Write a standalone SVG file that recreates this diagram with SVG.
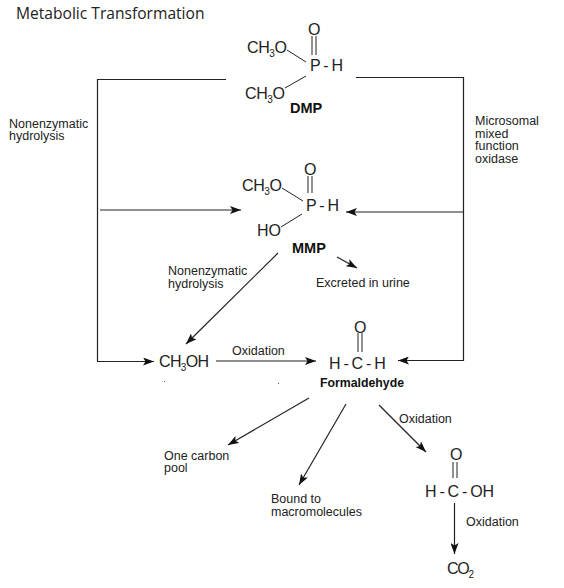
<svg xmlns="http://www.w3.org/2000/svg" width="564" height="588" viewBox="0 0 564 588">
<defs>
<marker id="a" markerUnits="userSpaceOnUse" markerWidth="12" markerHeight="8" refX="11" refY="4" orient="auto"><path d="M0 0L11 4L0 8L2.500 4Z" fill="#111"/></marker>
</defs>
<style>
text{font-family:"Liberation Sans",Arial,sans-serif;fill:#222;font-size:12.500px}
.m{font-size:16px}
.f{font-size:16px;word-spacing:-1.600px}
.s{font-size:10px}
.b{font-weight:bold;font-size:14.500px;fill:#111}
.l{fill:none;stroke:#222;stroke-width:1}
.c{fill:none;stroke:#222;stroke-width:1.200}
</style>
<rect width="564" height="588" fill="#fff"/>
<text id="title" x="16" y="19" style="font-family:'Open Sans','Noto Sans',sans-serif;font-size:15.600px">Metabolic Transformation</text>
<g id="connectors">
<path class="c" d="M226 79.500H97.500V361.500H154" marker-end="url(#a)"/>
<path class="c" d="M356 77.500H463.500V360.500H398" marker-end="url(#a)"/>
<path class="c" d="M100 210H241" marker-end="url(#a)"/>
<path class="c" d="M463 212H346" marker-end="url(#a)"/>
<path class="c" d="M278 253L186 344" marker-end="url(#a)"/>
<path class="c" d="M337 257L357 268" marker-end="url(#a)"/>
<path class="c" d="M216 361H316" marker-end="url(#a)"/>
<path class="c" d="M309 398L228 445" marker-end="url(#a)"/>
<path class="c" d="M346 404L299 485" marker-end="url(#a)"/>
<path class="c" d="M379 405L426 452" marker-end="url(#a)"/>
<path class="c" d="M454.500 503V554" marker-end="url(#a)"/>
</g>
<g id="dmp">
<text class="m" x="247" y="52.500" textLength="40">CH<tspan class="s" dy="4">3</tspan><tspan dy="-4">O</tspan></text>
<text class="m" x="245" y="98.500" textLength="40">CH<tspan class="s" dy="4">3</tspan><tspan dy="-4">O</tspan></text>
<text class="m" x="308" y="34.500">O</text>
<text class="f" x="310" y="70.500">P - H</text>
<text class="b" x="290" y="113">DMP</text>
<path class="l" d="M312 36V55M316 36V55M287 50L306 62M285 88L306 76"/>
</g>
<g id="mmp">
<text class="m" x="242" y="190.500" textLength="40">CH<tspan class="s" dy="4">3</tspan><tspan dy="-4">O</tspan></text>
<text class="m" x="257" y="236">HO</text>
<text class="m" x="304" y="174.500">O</text>
<text class="f" x="306" y="210.500">P - H</text>
<text class="b" x="292" y="253">MMP</text>
<path class="l" d="M308 176V193M312 176V193M282 188L303 201M281 227L302 214"/>
</g>
<g id="methanol"><text class="m" x="159" y="366.500" textLength="50">CH<tspan class="s" dy="4">3</tspan><tspan dy="-4">OH</tspan></text></g>
<g id="formaldehyde">
<text class="m" x="354" y="332.500">O</text>
<text class="f" x="329" y="368.500">H - C - H</text>
<text class="b" x="320" y="387" style="font-size:12.300px">Formaldehyde</text>
<path class="l" d="M358 333V352M362 333V352"/>
</g>
<g id="formic">
<text class="m" x="450" y="459.500">O</text>
<text class="f" x="425" y="496.500">H - C - OH</text>
<path class="l" d="M453 462V478M457 462V478"/>
</g>
<g id="co2"><text class="m" x="447" y="573.500" textLength="27">CO<tspan class="s" dy="4">2</tspan></text></g>
<g id="labels">
<text x="9" y="127.700">Nonenzymatic<tspan x="9" dy="12.600">hydrolysis</tspan></text>
<text x="475" y="125">Microsomal<tspan x="475" dy="12.600">mixed</tspan><tspan x="475" dy="12.600">function</tspan><tspan x="475" dy="12.800">oxidase</tspan></text>
<text x="168" y="275">Nonenzymatic<tspan x="168" dy="13">hydrolysis</tspan></text>
<text x="316" y="287">Excreted in urine</text>
<text x="232" y="355">Oxidation</text>
<text x="399" y="423">Oxidation</text>
<text x="164" y="459.700">One carbon<tspan x="164" dy="12.600">pool</tspan></text>
<text x="271" y="503">Bound to<tspan x="271" dy="13">macromolecules</tspan></text>
<text x="466" y="526">Oxidation</text>
</g>
<g id="specks" fill="#555"><rect x="164" y="381" width="1" height="1"/><rect x="278" y="383" width="1" height="1"/></g>
</svg>
